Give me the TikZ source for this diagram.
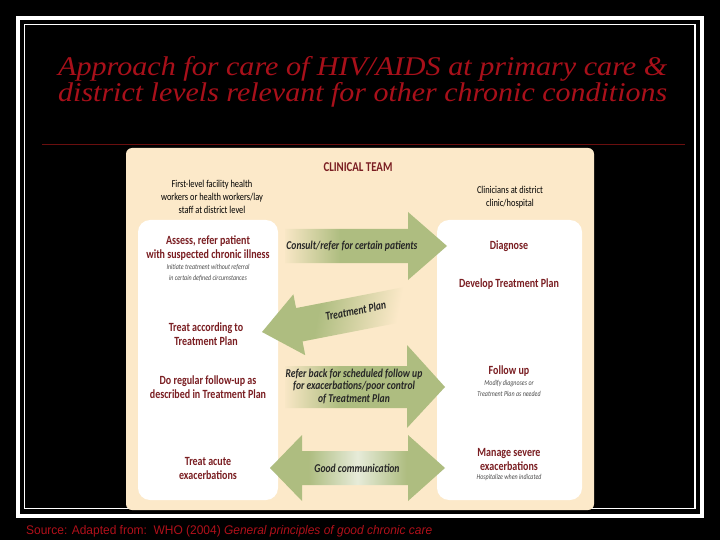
\documentclass[tikz,border=0pt]{standalone}
\usepackage{graphicx}
\usepackage{fontspec}
\setmainfont{Liberation Serif}
\newfontfamily\chartfont[FakeStretch=0.8]{Carlito}
\newfontfamily\srcfont{Liberation Sans}
\usetikzlibrary{positioning}
\definecolor{cream}{HTML}{FCE9C9}
\definecolor{leaf}{HTML}{AEBD80}
\definecolor{wine}{HTML}{7A1E22}
\definecolor{titlered}{HTML}{A8101A}
\definecolor{rulered}{HTML}{6A0F0F}
\definecolor{srcred}{HTML}{B0101A}
\pgfdeclarehorizontalshading{fadein}{100bp}{color(0bp)=(leaf!5!cream); color(25bp)=(leaf!5!cream); color(42bp)=(leaf); color(100bp)=(leaf)}
\pgfdeclarehorizontalshading{fadeout}{100bp}{color(0bp)=(leaf); color(42bp)=(leaf); color(70bp)=(cream); color(100bp)=(cream)}
\pgfdeclarehorizontalshading{midglow}{100bp}{color(0bp)=(leaf); color(36bp)=(leaf); color(50bp)=(leaf!30!white); color(64bp)=(leaf); color(100bp)=(leaf)}

\begin{document}
\begin{tikzpicture}[x=1pt, y=-1pt,
    titletext/.style={inner sep=0, anchor=base west, text=titlered, font=\itshape\fontsize{27}{27}\selectfont},
    header/.style={inner sep=0, align=center, font=\chartfont\fontsize{10.5}{13}\selectfont},
    task/.style={inner sep=0, align=center, text=wine, font=\chartfont\bfseries\fontsize{12.5}{14}\selectfont},
    note/.style={inner sep=0, align=center, text=black!70, font=\chartfont\itshape\fontsize{7.5}{10.5}\selectfont},
    arrowtext/.style={inner sep=0, align=center, text=black!85, font=\chartfont\bfseries\itshape\fontsize{12}{12.5}\selectfont},
    whitebox/.style={fill=white, rounded corners=12pt}]
\useasboundingbox[fill=black] (0,0) rectangle (720,540);
\draw[white, line width=4pt] (18,18) rectangle (701.5,516);
\draw[white, line width=1.5pt] (24.5,24.5) rectangle (695,508.5);

\node[titletext] (title1) at (58,76) {\resizebox{609pt}{\height}{Approach for care of HIV/AIDS at primary care \&}};
\node[titletext] (title2) at (58,102) {\resizebox{609pt}{\height}{district levels relevant for other chronic conditions}};
\draw[rulered, line width=1pt] (42,145) -- (685,145);

% chart
\fill[cream, rounded corners=6pt] (126,148) rectangle (594,510);
\fill[whitebox] (138,220) rectangle (278,500);
\fill[whitebox] (437,220) rectangle (582,500);

\node[task, font=\chartfont\bfseries\fontsize{13.5}{14}\selectfont] (team) at (358,167) {CLINICAL TEAM};
\node[header] (lhead) at (212,197) {First-level facility health\\workers or health workers/lay\\staff at district level};
\node[header] (rhead) at (510,197) {Clinicians at district\\clinic/hospital};

\node[task] (assess) at (208,248) {Assess, refer patient\\with suspected chronic illness};
\node[note, below=4pt of assess] (initiate) {Initiate treatment without referral\\in certain defined circumstances};
\node[task] (treat) at (206,334) {Treat according to\\Treatment Plan};
\node[task] (regular) at (208,387) {Do regular follow-up as\\described in Treatment Plan};
\node[task] (acute) at (208,468) {Treat acute\\exacerbations};

\node[task] (diagnose) at (509,246) {Diagnose};
\node[task] (develop) at (509,284) {Develop Treatment Plan};
\node[task] (followup) at (509,371) {Follow up};
\node[note, below=4pt of followup] (modify) {Modify diagnoses or\\Treatment Plan as needed};
\node[task] (severe) at (509,459) {Manage severe\\exacerbations};
\node[note, below=4pt of severe] (hospital) {Hospitalize when indicated};

% arrows
\shade[shading=fadein] (285,229) -- (408,229) -- (408,212) -- (447,246) -- (408,280)
    -- (408,263) -- (285,263) -- cycle;
\node[arrowtext] (consult) at (352,246) {Consult/refer for certain patients};

\begin{scope}[shift={(262,332)}, rotate=11]
\shade[shading=fadeout, shading angle=-11] (0,0) -- (38,-31) -- (38,-17) -- (155,-17) -- (155,17)
    -- (38,17) -- (38,31) -- cycle;
\node[arrowtext, rotate=11] (plan) at (96,-3) {Treatment Plan};
\end{scope}

\shade[shading=fadein] (285,366) -- (407,366) -- (407,345) -- (445,387) -- (407,428)
    -- (407,408) -- (285,408) -- cycle;
\node[arrowtext] (referback) at (354,386) {Refer back for scheduled follow up\\for exacerbations/poor control\\of Treatment Plan};

\shade[shading=midglow] (270,468) -- (302,435) -- (302,451) -- (408,451) -- (408,435) -- (445,468)
    -- (408,501) -- (408,485) -- (302,485) -- (302,501) -- cycle;
\node[arrowtext] (goodcomm) at (357,468) {Good communication};

\node[inner sep=0, anchor=base west, text=srcred, font=\srcfont\fontsize{12.5}{13}\selectfont] (source) at (26,534)
    {\resizebox{406pt}{\height}{Source: Adapted from:\ \ WHO (2004) \textit{General principles of good chronic care}}};
\end{tikzpicture}
\end{document}
